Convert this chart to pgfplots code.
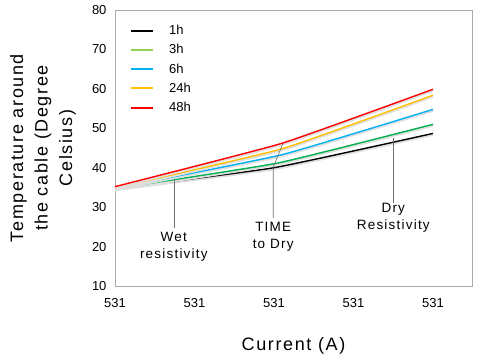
\documentclass[border=0pt]{standalone}
\usepackage{fontspec}
\setmainfont{Liberation Sans}
\newfontfamily\spaced[LetterSpace=9]{Liberation Sans}
\usepackage{pgfplots}
\pgfplotsset{compat=1.18}

\definecolor{c1h}{RGB}{0,0,0}
\definecolor{c3h}{RGB}{0,176,80}
\definecolor{c3hleg}{RGB}{146,208,80}
\definecolor{c6h}{RGB}{0,176,240}
\definecolor{c24h}{RGB}{255,192,0}
\definecolor{c48h}{RGB}{255,0,0}
\definecolor{frame}{RGB}{170,170,170}
\definecolor{callout}{RGB}{110,110,110}

\tikzset{
  shadowed/.style={preaction={draw=black!12, line width=2.4pt,
      transform canvas={yshift=-1.3pt}}},
  series/.style={line width=1.4pt, smooth, tension=0.25, shadowed, mark=none},
}

\begin{document}
\begin{tikzpicture}
\begin{axis}[
    name=ax,
    scale only axis,
    width=357pt, height=276pt,
    xmin=0, xmax=4.49,
    ymin=10, ymax=80,
    xtick={0,1,2,3,4},
    xticklabels={531,531,531,531,531},
    ytick={10,20,...,80},
    major tick length=0pt,
    axis line style={frame, line width=0.8pt},
    tick label style={font=\fontsize{13}{15}\selectfont},
    /pgf/number format/assume math mode=true,
    xticklabel style={yshift=-9pt},
    yticklabel style={xshift=-5pt},
    clip=false,
    legend style={at={(rel axis cs:0,1)}, anchor=north west,
        xshift=12pt, yshift=-11pt, draw=none, fill=none,
        font=\fontsize{13}{15}\selectfont, row sep=4.3pt,
        cells={anchor=west},
        /tikz/every odd column/.append style={column sep=13pt}},
    legend image code/.code={\draw[#1, line width=2pt] (0pt,0pt) -- (22pt,0pt);},
]
% legend entries
\addlegendimage{c1h}\addlegendentry{1h}
\addlegendimage{c3hleg}\addlegendentry{3h}
\addlegendimage{c6h}\addlegendentry{6h}
\addlegendimage{c24h}\addlegendentry{24h}
\addlegendimage{c48h}\addlegendentry{48h}

% series
\addplot[series, c1h, forget plot] coordinates {(0,34.7) (2.0,40.0) (4,48.7)};
\addplot[series, c3h, forget plot] coordinates {(0,34.7) (2.05,41.2) (4,51.0)};
\addplot[series, c6h, forget plot] coordinates {(0,34.8) (2.1,43.3) (4,54.8)};
\addplot[series, c24h, forget plot] coordinates {(0,34.9) (2.1,44.8) (4,58.4)};
\addplot[series, c48h, forget plot] coordinates {(0,35.2) (2.1,46.2) (4,59.9)};

% callouts
\draw[callout, line width=0.6pt] (axis cs:0.74,36.9) -- (axis cs:0.74,24.8);
\draw[callout, line width=0.6pt] (axis cs:2.11,46.0) -- (axis cs:1.99,40.2) -- (axis cs:1.99,27.3);
\draw[callout, line width=0.6pt] (axis cs:3.5,47.6) -- (axis cs:3.5,31.1);
\node[align=center, font=\spaced\fontsize{13.5}{17}\selectfont] at (axis cs:0.74,20.0) {Wet\\resistivity};
\node[align=center, font=\spaced\fontsize{13.5}{17}\selectfont] at (axis cs:1.99,22.4) {TIME\\to Dry};
\node[align=center, font=\spaced\fontsize{13.5}{17}\selectfont] at (axis cs:3.5,27.2) {Dry\\Resistivity};
\end{axis}
% axis titles
\node[rotate=90, align=center, font=\spaced\fontsize{18}{24.5}\selectfont]
    at ([xshift=-72pt]ax.west) {Temperature around\\the cable (Degree\\Celsius)};
\node[font=\spaced\fontsize{18}{22}\selectfont]
    at ([yshift=-60pt]ax.south) {Current (A)};
\pgfresetboundingbox
\path ([shift={(-115pt,-78pt)}]ax.south west) rectangle ([shift={(8pt,10pt)}]ax.north east);
\end{tikzpicture}
\end{document}
